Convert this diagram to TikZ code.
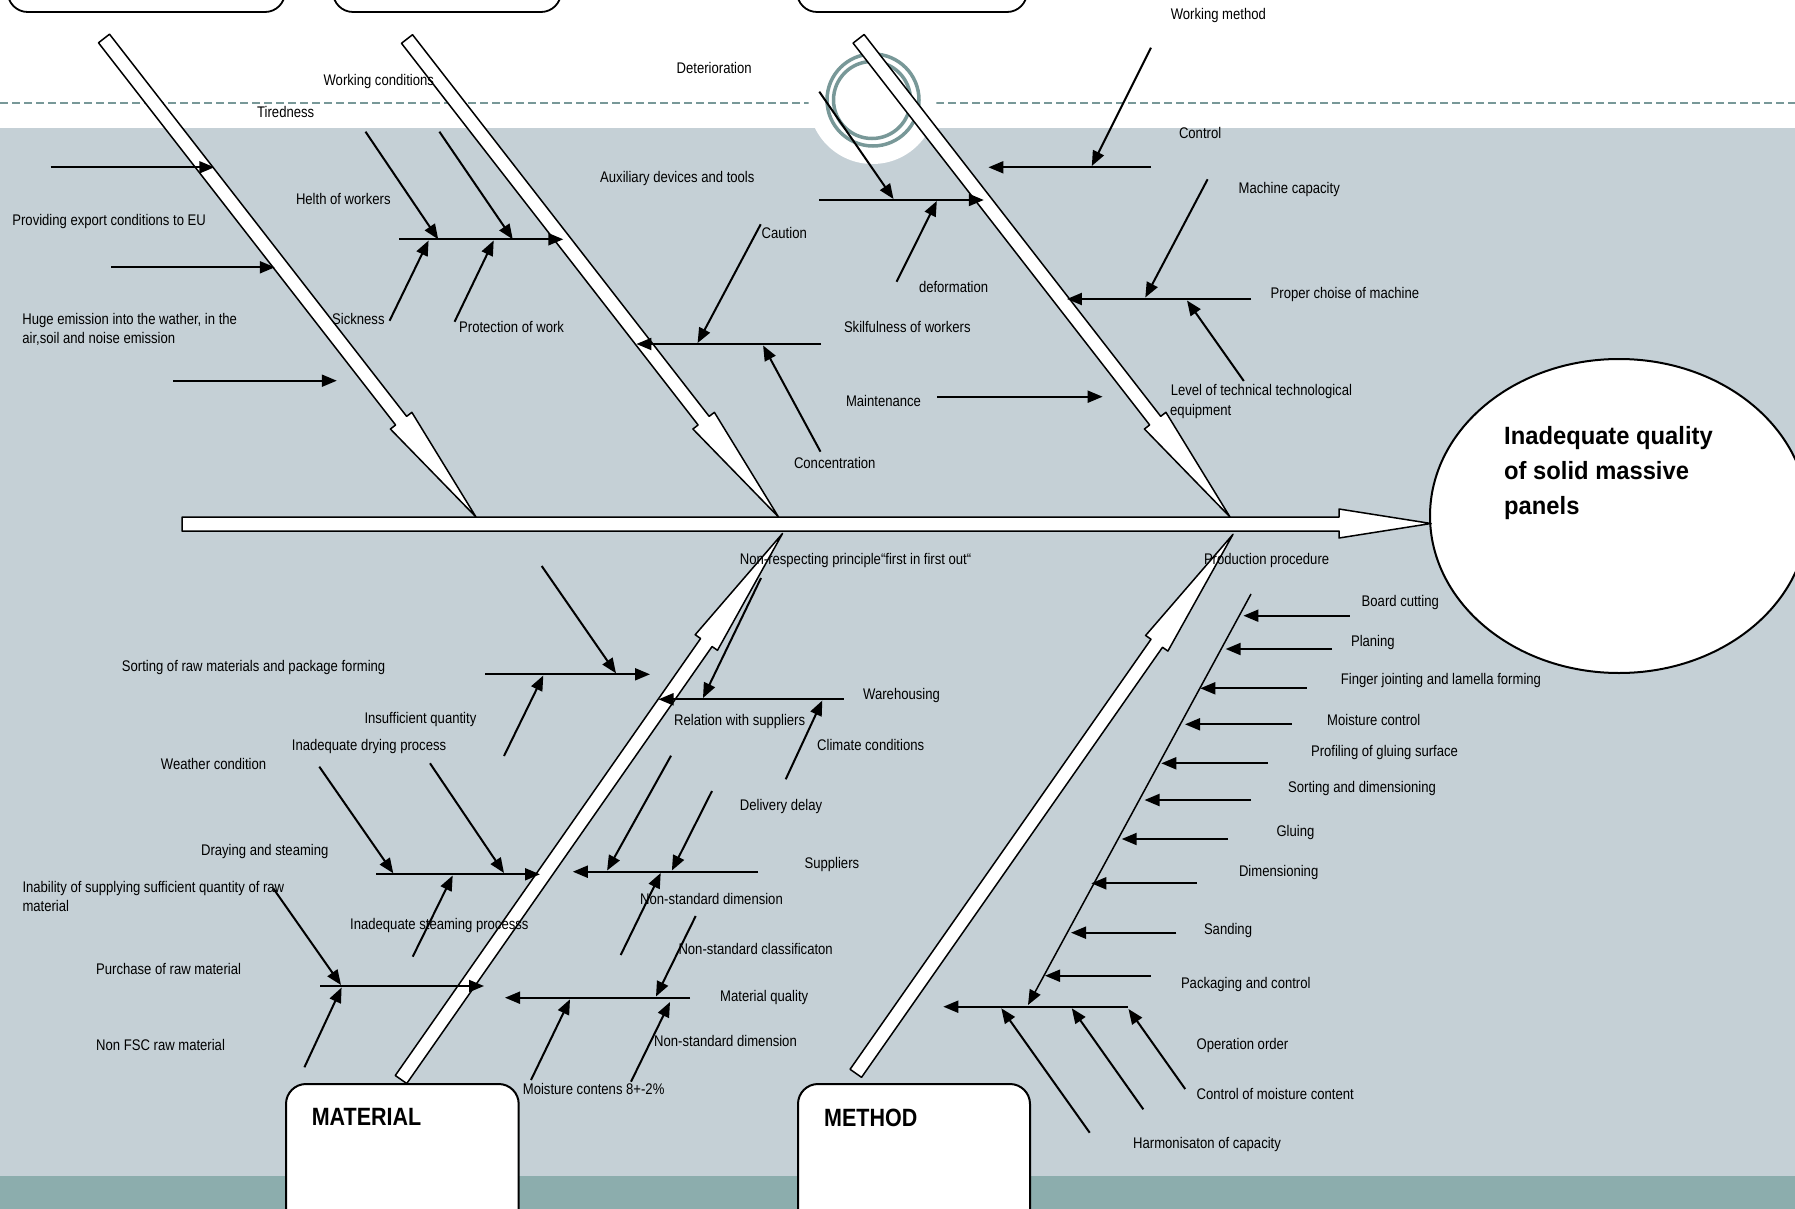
\documentclass[tikz,border=0pt]{standalone}
\usepackage{fontspec}
\usetikzlibrary{arrows.meta,calc,shapes.geometric}
\newfontfamily\labfont{Liberation Sans}[FakeStretch=0.85]
\newfontfamily\ttlfont{Liberation Sans}[FakeStretch=0.95]
\newfontfamily\catfont{Liberation Sans}[FakeStretch=0.86]
\definecolor{bggrey}{RGB}{197,208,214}
\definecolor{bandteal}{RGB}{140,173,173}
\definecolor{ringteal}{RGB}{120,152,152}
\tikzset{
  lab/.style={font=\labfont\fontsize{15.4}{18}\selectfont, inner sep=0pt, anchor=base west, yshift=-5.5pt},
  arr/.style={line width=2pt, -{Triangle[length=15pt,width=12pt]}},
  thinarr/.style={line width=1.5pt, -{Triangle[length=15pt,width=12pt]}},
  bonestyle/.style={draw=black, fill=white, line width=1.5pt, line join=round},
  catbox/.style={draw=black, fill=white, line width=2pt, rounded corners=20pt},
  cattext/.style={font=\catfont\bfseries\fontsize{25}{30}\selectfont, inner sep=0pt, anchor=base west},
}
\newcommand\fishbone[3]{%
  \coordinate (hb) at ($(#2)!#3!(#1)$);
  \draw[bonestyle]
    ($(#1)!7pt!90:(#2)$) -- ($(hb)!7pt!90:(#2)$) -- ($(hb)!13.6pt!90:(#2)$) -- (#2)
    -- ($(hb)!13.6pt!-90:(#2)$) -- ($(hb)!7pt!-90:(#2)$) -- ($(#1)!7pt!-90:(#2)$) -- cycle;
}
\begin{document}
\begin{tikzpicture}[x=1pt,y=-1pt]
\useasboundingbox (0,0) rectangle (1795,1209);
\clip (0,0) rectangle (1795,1209);
% backgrounds
\fill[white] (0,0) rectangle (1795,1209);
\fill[bggrey] (0,128) rectangle (1795,1176);
\fill[bandteal] (0,1176) rectangle (1795,1209);
\draw[ringteal, line width=1.3pt, dash pattern=on 8pt off 4pt] (0,103) -- (1795,103);
\fill[white] (872.5,100) circle (64pt);
\draw[ringteal, line width=3.5pt] (873,100) circle (46pt);
\draw[ringteal, line width=3.5pt] (872,100) circle (38.5pt);
% top category boxes (cut off)
\draw[catbox, line width=1.8pt] (7.7,-60) rectangle (285,12);
\draw[catbox, line width=1.8pt] (333,-60) rectangle (561,12);
\draw[catbox, line width=1.8pt] (797,-60) rectangle (1027,12);
% bones
\coordinate (b1s) at (104,38.5);   \coordinate (b1t) at (476,517);
\coordinate (b2s) at (407,39);     \coordinate (b2t) at (778.5,517);
\coordinate (b3s) at (858.6,38.8); \coordinate (b3t) at (1230,517);
\coordinate (b4s) at (401,1079.5); \coordinate (b4t) at (782.5,533.5);
\coordinate (b5s) at (855.8,1073.3); \coordinate (b5t) at (1233,534.3);
\fishbone{b1s}{b1t}{122pt}
\fishbone{b2s}{b2t}{122pt}
\fishbone{b3s}{b3t}{122pt}
% effect ellipse
\node[ellipse, draw=black, fill=white, line width=2pt, minimum width=378pt, minimum height=314pt, inner sep=0pt] (effect) at (1619,516) {};
\node[font=\ttlfont\bfseries\fontsize{25}{35}\selectfont, align=left, anchor=north west, inner sep=0pt] (effecttext) at (1504,426.5) {Inadequate quality\\of solid massive\\panels};
% spine
\coordinate (spinetip) at (1431,523.5);
\draw[bonestyle] (182,517) -- (1339,517) -- (1339,509) -- (spinetip) -- (1339,538) -- (1339,531) -- (182,531) -- cycle;
\fishbone{b4s}{b4t}{133pt}
\fishbone{b5s}{b5t}{133pt}
% ---- bone 1 arrows
\draw[arr] (50.5,167.3) -- (214.3,167.3);
\draw[arr] (111,267.3) -- (274.8,267.3);
\draw[arr] (173,380.7) -- (336.8,380.7);
% working conditions branch
\draw[arr] (399,239.3) -- (563.3,239.3);
\draw[arr] (365.5,131.7) -- (438.2,239.3);
\draw[arr] (439.4,131.7) -- (512.8,239.3);
\draw[arr] (389.6,320.7) -- (428.6,240.5);
\draw[arr] (454.6,321.7) -- (493.7,240.5);
% ---- bone 2 arrows
\draw[arr] (821.2,344) -- (636.4,344);
\draw[arr] (760.7,224.3) -- (697.6,343);
\draw[arr] (820.5,451.7) -- (763.1,345.5);
\draw[arr] (937.3,396.7) -- (1102.6,396.7);
% ---- bone 3 arrows
\draw[arr] (819.3,200) -- (983.8,200);
\draw[arr] (819.3,91.7) -- (893.5,199);
\draw[arr] (896.6,281.7) -- (936.8,201);
\draw[arr] (1151,167.3) -- (988.4,167.3);
\draw[arr] (1151,47.7) -- (1091.8,166);
\draw[arr] (1251,299) -- (1066.9,299);
\draw[arr] (1207.6,179.3) -- (1145.3,297.5);
\draw[arr] (1243.8,381) -- (1187,300.5);
% ---- bone 4 arrows (left)
\draw[arr] (485,674.3) -- (650,674.3);
\draw[arr] (541.7,566) -- (616,673.3);
\draw[arr] (504,756) -- (543.3,675.5);
\draw[arr] (376,874.3) -- (540,874.3);
\draw[arr] (319.3,766.7) -- (393.3,873.3);
\draw[arr] (430,763.3) -- (504,873);
\draw[arr] (412.7,956.7) -- (452.7,875.5);
\draw[arr] (320,986) -- (484,986);
\draw[arr] (273.2,888.3) -- (341,985);
\draw[arr] (304.4,1067.3) -- (341.6,987.5);
% bone 4 arrows (right)
\draw[arr] (843.7,699.3) -- (658.5,699.3);
\draw[arr] (761,578) -- (703,698);
\draw[arr] (785.7,779.3) -- (822.3,700.5);
\draw[arr] (758,871.7) -- (572.8,871.7);
\draw[arr] (671,755.7) -- (607.1,870.5);
\draw[arr] (712,791) -- (671.9,870.5);
\draw[arr] (620.7,955) -- (660.7,873);
\draw[arr] (690,997.7) -- (505,997.7);
\draw[arr] (695.7,916) -- (656,996.5);
\draw[arr] (531,1080) -- (570,999.3);
\draw[arr] (631,1081.7) -- (670,1002);
% ---- bone 5 arrows
\coordinate (pdtop) at (1251,594);
\coordinate (pdbot) at (1028,1005);
\draw[thinarr] (pdtop) -- (pdbot);
\draw[arr] (1349.8,615.7) -- (1243.4,615.7);
\draw[arr] (1332,649) -- (1225.6,649);
\draw[arr] (1306.7,688.3) -- (1200.3,688.3);
\draw[arr] (1291.5,724.3) -- (1185,724.3);
\draw[arr] (1267.7,763.3) -- (1161.3,763.3);
\draw[arr] (1251,800) -- (1144.5,800);
\draw[arr] (1228,839) -- (1121.7,839);
\draw[arr] (1196.7,883.3) -- (1091.3,883.3);
\draw[arr] (1176.4,932.7) -- (1071,932.7);
\draw[arr] (1150.9,975.7) -- (1045,975.7);
\draw[arr] (1127.7,1006.7) -- (943.3,1006.7);
\draw[arr] (1089.7,1132.7) -- (1001.3,1008.3);
\draw[arr] (1143.3,1109.3) -- (1071.8,1008.3);
\draw[arr] (1185.2,1089) -- (1128.5,1009);
% ---- bottom category boxes
\draw[catbox] (286,1084) rectangle (518.7,1260);
\draw[catbox] (798,1084) rectangle (1030,1260);
\node[cattext] (material) at (311.6,1125) {MATERIAL};
\node[cattext] (method) at (824,1126) {METHOD};
% ---- labels
\node[lab] (l1) at (1170.6,14) {Working method};
\node[lab] (l2) at (676.5,67.7) {Deterioration};
\node[lab] (l3) at (323.4,80) {Working conditions};
\node[lab] (l4) at (257,111.7) {Tiredness};
\node[lab] (l5) at (1178.8,133.3) {Control};
\node[lab] (l6) at (600,176.7) {Auxiliary devices and tools};
\node[lab] (l7) at (1238.5,187.7) {Machine capacity};
\node[lab] (l8) at (295.8,199) {Helth of workers};
\node[lab] (l9) at (12.2,220) {Providing export conditions to EU};
\node[lab] (l10) at (761.5,233.3) {Caution};
\node[lab] (l11) at (918.8,287.3) {deformation};
\node[lab] (l12) at (1270.5,292.7) {Proper choise of machine};
\node[lab] (l13) at (22.2,319) {Huge emission into the wather, in the};
\node[lab] (l14) at (22.2,337.7) {air,soil and noise emission};
\node[lab] (l15) at (332,319) {Sickness};
\node[lab] (l16) at (459,326.7) {Protection of work};
\node[lab] (l17) at (843.8,326.7) {Skilfulness of workers};
\node[lab] (l18) at (845.8,400.7) {Maintenance};
\node[lab] (l19) at (1170.6,390) {Level of technical technological};
\node[lab] (l20) at (1170,410) {equipment};
\node[lab] (l21) at (793.8,462.7) {Concentration};
\node[lab] (l22) at (739.7,559) {Non-respecting principle“first in first out“};
\node[lab] (l23) at (1203.8,559) {Production procedure};
\node[lab] (l24) at (1361.5,601) {Board cutting};
\node[lab] (l25) at (1350.8,641) {Planing};
\node[lab] (l26) at (1340.7,679) {Finger jointing and lamella forming};
\node[lab] (l27) at (1327,720) {Moisture control};
\node[lab] (l28) at (1310.8,750.7) {Profiling of gluing surface};
\node[lab] (l29) at (1288,786.7) {Sorting and dimensioning};
\node[lab] (l30) at (1276.3,831) {Gluing};
\node[lab] (l31) at (1238.8,871) {Dimensioning};
\node[lab] (l32) at (1203.8,929) {Sanding};
\node[lab] (l33) at (1180.8,982.7) {Packaging and control};
\node[lab] (l34) at (1196.4,1044.3) {Operation order};
\node[lab] (l35) at (1196.4,1094.3) {Control of moisture content};
\node[lab] (l36) at (1133,1142.7) {Harmonisaton of capacity};
\node[lab] (l37) at (121.7,666) {Sorting of raw materials and package forming};
\node[lab] (l38) at (863,694.3) {Warehousing};
\node[lab] (l39) at (364.3,717.7) {Insufficient quantity};
\node[lab] (l40) at (674,720) {Relation with suppliers};
\node[lab] (l41) at (291.7,745) {Inadequate drying process};
\node[lab] (l42) at (817,745) {Climate conditions};
\node[lab] (l43) at (160.7,764.3) {Weather condition};
\node[lab] (l44) at (739.7,805) {Delivery delay};
\node[lab] (l45) at (200.9,850) {Draying and steaming};
\node[lab] (l46) at (804.4,862.7) {Suppliers};
\node[lab] (l47) at (22.3,887.3) {Inability of supplying sufficient quantity of raw};
\node[lab] (l48) at (22.3,906) {material};
\node[lab] (l49) at (640,899) {Non-standard dimension};
\node[lab] (l50) at (350,924.3) {Inadequate steaming processs};
\node[lab] (l51) at (678.3,949) {Non-standard classificaton};
\node[lab] (l52) at (96,969.3) {Purchase of raw material};
\node[lab] (l53) at (720,996) {Material quality};
\node[lab] (l54) at (654,1040.7) {Non-standard dimension};
\node[lab] (l55) at (96,1045) {Non FSC raw material};
\node[lab] (l56) at (522.7,1089) {Moisture contens 8+-2\%};
\end{tikzpicture}
\end{document}
